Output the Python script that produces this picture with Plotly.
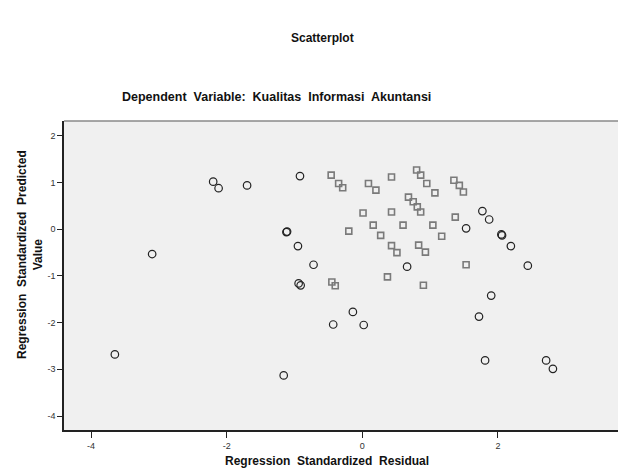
import plotly.graph_objects as go

# Clear (open circle) points: residual, predicted
circ_x = [-2.20, -2.12, -1.70, -0.92, -1.12, -1.11, -0.95, -0.72, -0.94, -0.91,
          -3.10, -0.43, -3.65, -1.16, 0.66, 2.44, 1.90, 1.72, -0.14, 0.02,
          1.81, 2.71, 2.81, 1.77, 1.87, 1.53, 2.05, 2.06, 2.19]
circ_y = [1.02, 0.88, 0.94, 1.14, -0.06, -0.05, -0.36, -0.76, -1.16, -1.20,
          -0.53, -2.04, -2.68, -3.13, -0.80, -0.78, -1.42, -1.87, -1.77, -2.05,
          -2.81, -2.81, -2.99, 0.39, 0.21, 0.02, -0.11, -0.13, -0.36]

# Densely overlapping points (rendered blurred in the original)
sq_x = [-0.46, 0.43, 0.01, 0.43, 1.37, 0.16, 0.60, 1.04, 1.17, -0.20, 0.27,
        1.53, 0.37, 0.90, 0.95, 1.07,
        -0.35, -0.29, 0.09, 0.20, 0.80, 0.86, 1.35, 1.43, 1.49,
        0.68, 0.75, 0.81, 0.86, 0.43, 0.51, 0.83, 0.93, -0.45, -0.40]
sq_y = [1.16, 1.12, 0.35, 0.37, 0.26, 0.09, 0.09, 0.09, -0.15, -0.04, -0.13,
        -0.76, -1.02, -1.20, 0.98, 0.78,
        0.98, 0.89, 0.98, 0.84, 1.27, 1.16, 1.05, 0.94, 0.80,
        0.69, 0.59, 0.48, 0.37, -0.35, -0.50, -0.34, -0.49, -1.13, -1.21]

x_ticks = [-4, -2, 0, 2]
y_ticks = [2, 1, 0, -1, -2, -3, -4]

W, H = 618, 470
L, R, T, B = 64, 0, 121, 40

fig = go.Figure()
fig.add_trace(go.Scatter(
    x=sq_x, y=sq_y, mode="markers",
    marker=dict(symbol="square-open", size=6, color="#7a7a7a",
                line=dict(width=1.6, color="#7a7a7a")),
    hoverinfo="skip", showlegend=False))
fig.add_trace(go.Scatter(
    x=circ_x, y=circ_y, mode="markers",
    marker=dict(symbol="circle-open", size=7.5, color="#222222",
                line=dict(width=1.2, color="#222222")),
    showlegend=False))

font = "Liberation Sans, Arial, sans-serif"
fig.update_layout(
    width=W, height=H,
    margin=dict(l=L, r=R, t=T, b=B),
    paper_bgcolor="white", plot_bgcolor="#f0f0f0",
    font=dict(family=font, size=9, color="#333333"),
    xaxis=dict(range=[-4.40, 3.77], tickvals=x_ticks, ticktext=[str(v) for v in x_ticks],
               showgrid=False, zeroline=False, showline=True, linecolor="#222222",
               linewidth=1.5, ticks="outside", ticklen=6, tickcolor="#222222",
               tickfont=dict(size=9, color="#333333")),
    yaxis=dict(range=[-4.30, 2.32], tickvals=y_ticks, ticktext=[str(v) for v in y_ticks],
               showgrid=False, zeroline=False, showline=True, linecolor="#222222",
               linewidth=1.5, ticks="outside", ticklen=5, tickcolor="#222222",
               tickfont=dict(size=9, color="#333333")),
)

def px(xpix):
    return (xpix - L) / (W - L - R)

fig.add_shape(type="line", xref="paper", yref="paper", x0=0, x1=1, y0=1, y1=1,
              line=dict(color="#8a8a8a", width=1.5))

fig.add_annotation(text="<b>Scatterplot</b>", xref="paper", yref="paper",
                   x=px(322), y=1 + (T - 38) / (H - T - B), showarrow=False,
                   font=dict(family=font, size=12, color="#111111"),
                   xanchor="center", yanchor="middle")
fig.add_annotation(text="<b>Dependent  Variable:  Kualitas  Informasi  Akuntansi</b>",
                   xref="paper", yref="paper",
                   x=px(276), y=1 + (T - 97) / (H - T - B), showarrow=False,
                   font=dict(family=font, size=12.5, color="#111111"),
                   xanchor="center", yanchor="middle")
fig.add_annotation(text="<b>Regression  Standardized  Residual</b>",
                   xref="paper", yref="paper",
                   x=px(327), y=-(461 - (H - B)) / (H - T - B), showarrow=False,
                   font=dict(family=font, size=12, color="#111111"),
                   xanchor="center", yanchor="middle")
fig.add_annotation(text="<b>Regression  Standardized  Predicted<br>Value</b>",
                   xref="paper", yref="paper",
                   x=px(30), y=1 - (255 - T) / (H - T - B), showarrow=False,
                   textangle=-90,
                   font=dict(family=font, size=12, color="#111111"),
                   xanchor="center", yanchor="middle")

fig.write_html("out.html", config={"displayModeBar": False},
               post_script="document.body.style.margin='0';")
